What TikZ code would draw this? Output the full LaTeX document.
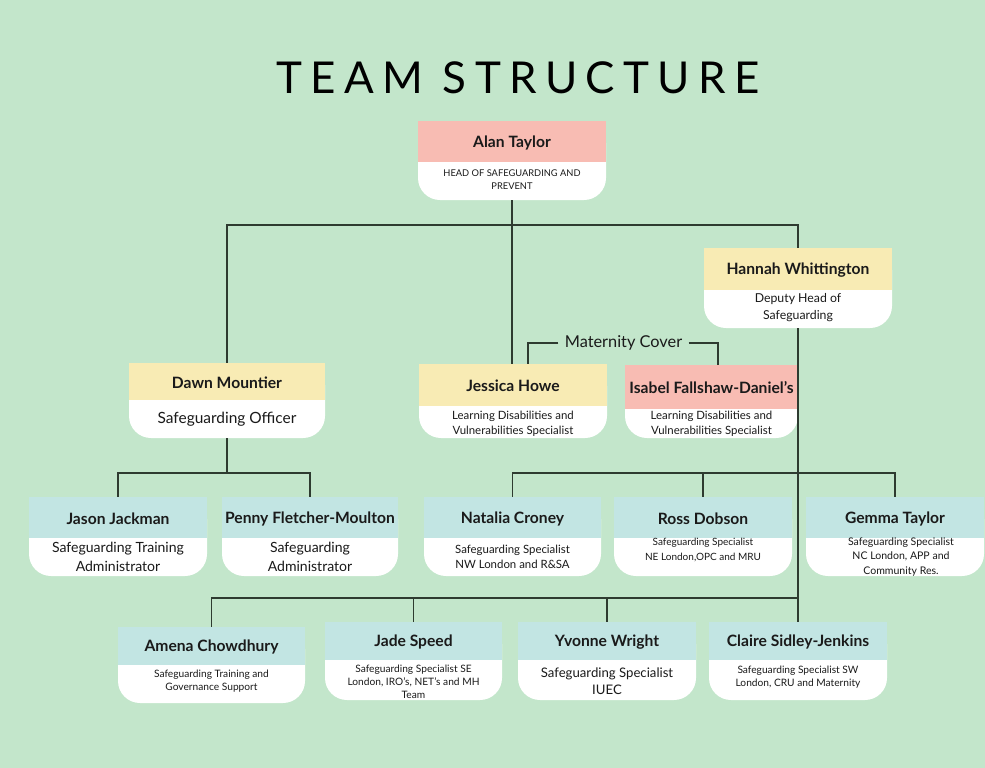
\documentclass[tikz,border=0pt]{standalone}
\usepackage{fontspec}
\setmainfont{Lato}
\newfontfamily\titlefont[LetterSpace=19]{Lato}
\usetikzlibrary{fit,calc}

\definecolor{bggreen}{HTML}{C3E6CB}
\definecolor{bandpink}{HTML}{F8BCB3}
\definecolor{bandyellow}{HTML}{F8EBB4}
\definecolor{bandblue}{HTML}{C2E5E3}
\definecolor{linegrey}{HTML}{2E3B30}
\definecolor{inkblack}{HTML}{1A1A1A}

\tikzset{
  conn/.style={draw=linegrey, line width=0.7pt},
  namebox/.style={font=\bfseries\fontsize{8.9}{10.5}\selectfont, text=inkblack, inner sep=0pt},
  role/.style={align=center, text=inkblack, inner sep=0pt},
}

% #1 id, #2 left, #3 top, #4 right, #5 band bottom, #6 bottom, #7 colour, #8 name
\newcommand{\staffbox}[8]{%
  \fill[white, rounded corners=0.44cm] (#2,#3) rectangle (#4,#6);
  \fill[#7] (#2,#3) rectangle (#4,#5);
  \node[fit={(#2,#3) (#4,#6)}, inner sep=0pt] (#1) {};
  \node[namebox] (#1-name) at ($(#2,#3)!0.5!(#4,#5)+(0,1)$) {#8};
}

\begin{document}
\begin{tikzpicture}[x=0.02cm, y=-0.02cm]
    \fill[bggreen] (0,0) rectangle (985,768);
    \useasboundingbox (0,0) rectangle (985,768);

    \node[font=\titlefont\fontsize{25}{30}\selectfont, text=black] (title) at (518,78) {TEAM STRUCTURE};

    % boxes
    \staffbox{alan}{418}{121}{606}{162}{200}{bandpink}{Alan Taylor}
    \node[role, font=\fontsize{5.3}{7.4}\selectfont] (alan-role) at (512,180) {HEAD OF SAFEGUARDING AND\\PREVENT};

    \staffbox{hannah}{704}{248}{892}{290}{328}{bandyellow}{Hannah Whittington}
    \node[role, font=\fontsize{7}{9.6}\selectfont] (hannah-role) at (798,308) {Deputy Head of\\Safeguarding};

    \staffbox{dawn}{129}{363}{325}{400}{438}{bandyellow}{Dawn Mountier}
    \node[role, font=\fontsize{8.8}{10}\selectfont] (dawn-role) at (227,419) {Safeguarding Officer};

    \staffbox{jessica}{419}{364}{607}{406}{438}{bandyellow}{Jessica Howe}
    \node[role, font=\fontsize{6.5}{8.5}\selectfont] (jessica-role) at (513,423.5) {Learning Disabilities and\\Vulnerabilities Specialist};

    \staffbox{isabel}{625}{365}{798}{409}{438}{bandpink}{Isabel Fallshaw-Daniel’s}
    \node[role, font=\fontsize{6.5}{8.5}\selectfont] (isabel-role) at (711.5,423.5) {Learning Disabilities and\\Vulnerabilities Specialist};

    \staffbox{jason}{29}{497}{207}{538}{576}{bandblue}{Jason Jackman}
    \node[role, font=\fontsize{8}{10.8}\selectfont] (jason-role) at (118,556.5) {Safeguarding Training\\Administrator};

    \staffbox{penny}{222}{497}{398}{538}{576}{bandblue}{Penny Fletcher-Moulton}
    \node[role, font=\fontsize{8}{10.8}\selectfont] (penny-role) at (310,556.5) {Safeguarding\\Administrator};

    \staffbox{natalia}{424}{497}{601}{538}{576}{bandblue}{Natalia Croney}
    \node[role, font=\fontsize{6.5}{8.5}\selectfont] (natalia-role) at (512.5,556.5) {Safeguarding Specialist\\NW London and R\&SA};

    \staffbox{ross}{614}{497}{792}{538}{576}{bandblue}{Ross Dobson}
    \node[role, font=\fontsize{5.7}{8}\selectfont] (ross-role) at (703,550) {Safeguarding Specialist\\NE London,OPC and MRU};

    \staffbox{gemma}{806}{497}{984}{538}{576}{bandblue}{Gemma Taylor}
    \node[role, font=\fontsize{6}{8}\selectfont] (gemma-role) at (901,557) {Safeguarding Specialist\\NC London, APP and\\Community Res.};

    \staffbox{amena}{118}{627}{305}{665}{703}{bandblue}{Amena Chowdhury}
    \node[role, font=\fontsize{5.8}{7.4}\selectfont] (amena-role) at (211.5,681.5) {Safeguarding Training and\\Governance Support};

    \staffbox{jade}{325}{622}{502}{660}{700}{bandblue}{Jade Speed}
    \node[role, font=\fontsize{5.8}{7.4}\selectfont] (jade-role) at (413.5,682) {Safeguarding Specialist SE\\London, IRO’s, NET’s and MH\\Team};

    \staffbox{yvonne}{518}{622}{696}{660}{700}{bandblue}{Yvonne Wright}
    \node[role, font=\fontsize{7.5}{9.6}\selectfont] (yvonne-role) at (607,681.5) {Safeguarding Specialist\\IUEC};

    \staffbox{claire}{709}{622}{887}{660}{700}{bandblue}{Claire Sidley-Jenkins}
    \node[role, font=\fontsize{5.8}{7.4}\selectfont] (claire-role) at (798,677.5) {Safeguarding Specialist SW\\London, CRU and Maternity};

    % maternity cover
    \node[font=\fontsize{9.3}{11}\selectfont, text=inkblack, inner xsep=3.4pt, inner ysep=0pt] (cover) at (623.5,343) {Maternity Cover};
    \coordinate (coverleft) at (528,364);
    \coordinate (coverright) at (718,365);
    \draw[conn] (cover.west) -| (coverleft);
    \draw[conn] (cover.east) -| (coverright);

    % connectors
    \coordinate (topbar) at (512,225);
    \coordinate (dawnbar) at (227,473);
    \coordinate (hannahbar) at (798,473);
    \coordinate (lowbar) at (798,598);
    \draw[conn] (dawn.north) |- (topbar) -| (hannah.north);
    \draw[conn] (alan.south) -- (alan.south |- jessica.north);
    \draw[conn] (dawn.south) -- (dawnbar);
    \draw[conn] (jason.north) |- (dawnbar) -| (penny.north);
    \draw[conn] (hannah.south) -- (claire.north);
    \draw[conn] (natalia.north) |- (hannahbar) -| (gemma.north);
    \draw[conn] (ross.north) -- (ross.north |- hannahbar);
    \draw[conn] (amena.north) |- (lowbar);
    \draw[conn] (jade.north) -- (jade.north |- lowbar);
    \draw[conn] (yvonne.north) -- (yvonne.north |- lowbar);
\end{tikzpicture}
\end{document}
